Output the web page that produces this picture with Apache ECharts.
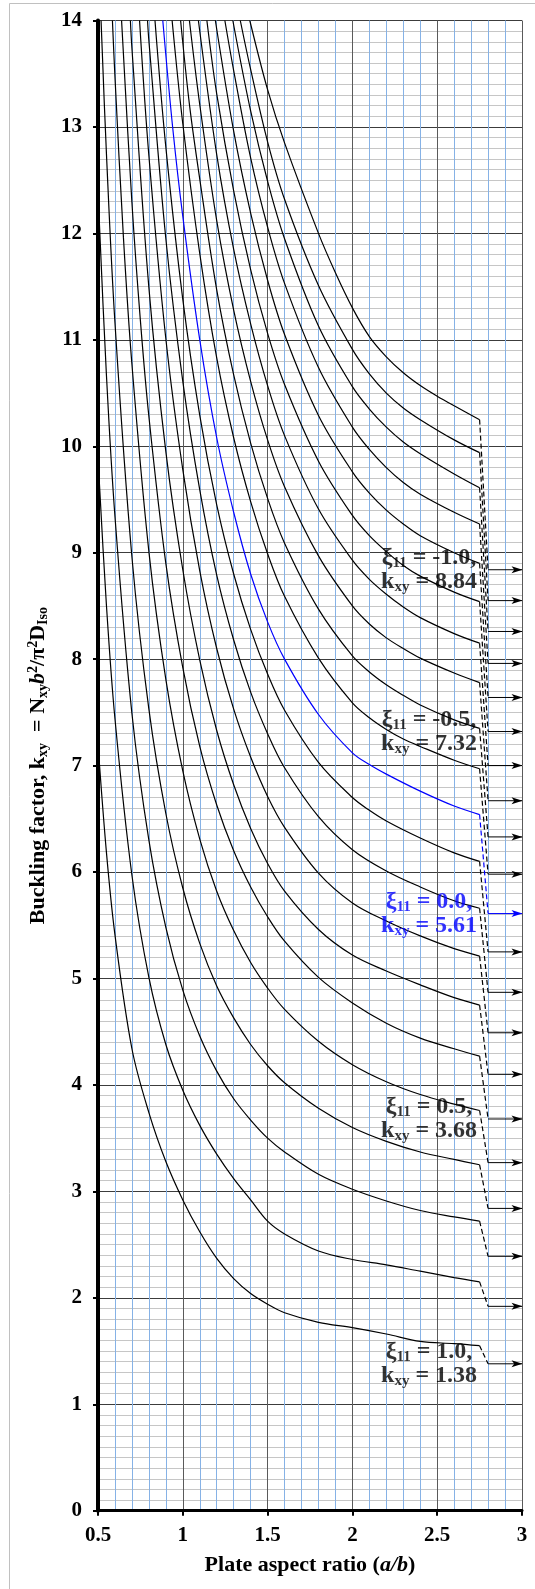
<!DOCTYPE html>
<html><head><meta charset="utf-8">
<script src="https://cdn.jsdelivr.net/npm/echarts@6/dist/echarts.min.js"></script>
<style>html,body{margin:0;padding:0;background:#fff}#c{width:535px;height:1589px}</style>
</head><body><div id="c"></div>
<script>
// ---- data ----
const xiValues = [-1.0,-0.9,-0.8,-0.7,-0.6,-0.5,-0.4,-0.3,-0.2,-0.1,0.0,0.1,0.2,0.3,0.4,0.5,0.6,0.7,0.8,0.9,1.0];
const asymptotes = [8.84,8.55,8.26,7.96,7.64,7.32,7.00,6.67,6.33,5.98,5.61,5.25,4.87,4.49,4.10,3.68,3.27,2.84,2.39,1.92,1.38];
const endX = 2.75, asymX = 2.8, arrowEndX = 3.0;
const labelledXi = [-1.0,-0.5,0.0,0.5,1.0];
const labelX = 2.452;
const xTickValues = [0.5,1,1.5,2,2.5,3];
const curves = [
 [[1.395,14],[1.5,13.35],[1.6,12.85],[1.8,12.0],[1.9,11.63],[2.0,11.30],[2.1,11.03],[2.2,10.84],[2.3,10.69],[2.4,10.57],[2.5,10.47],[2.6,10.38],[2.75,10.25]],
 [[1.339,14],[1.4,13.54],[1.5,12.86],[1.6,12.32],[1.8,11.51],[2.0,10.91],[2.1,10.68],[2.2,10.50],[2.3,10.36],[2.4,10.25],[2.6,10.06],[2.75,9.94]],
 [[1.295,14],[1.4,13.15],[1.5,12.49],[1.6,11.95],[1.8,11.13],[2.0,10.56],[2.1,10.35],[2.2,10.18],[2.3,10.04],[2.4,9.93],[2.6,9.74],[2.75,9.61]],
 [[1.248,14],[1.3,13.53],[1.4,12.71],[1.5,12.06],[1.6,11.53],[1.8,10.74],[2.0,10.18],[2.1,9.97],[2.2,9.80],[2.3,9.66],[2.4,9.55],[2.6,9.38],[2.75,9.27]],
 [[1.192,14],[1.3,12.96],[1.4,12.19],[1.5,11.56],[1.6,11.05],[1.8,10.29],[2.0,9.76],[2.1,9.56],[2.2,9.40],[2.3,9.27],[2.4,9.16],[2.6,9.00],[2.75,8.90]],
 [[1.142,14],[1.2,13.31],[1.3,12.40],[1.4,11.66],[1.5,11.06],[1.6,10.58],[1.8,9.86],[2.0,9.35],[2.1,9.16],[2.2,9.01],[2.3,8.88],[2.4,8.78],[2.6,8.63],[2.75,8.54]],
 [[1.092,14],[1.2,12.74],[1.3,11.85],[1.4,11.15],[1.5,10.57],[1.6,10.10],[1.8,9.41],[2.0,8.93],[2.1,8.75],[2.2,8.61],[2.3,8.49],[2.4,8.39],[2.6,8.24],[2.75,8.15]],
 [[1.039,14],[1.1,13.21],[1.2,12.12],[1.3,11.28],[1.4,10.61],[1.5,10.06],[1.6,9.62],[1.8,8.97],[2.0,8.50],[2.1,8.33],[2.2,8.20],[2.3,8.10],[2.4,8.01],[2.6,7.87],[2.75,7.78]],
 [[0.987,14],[1.04,13.2],[1.1,12.51],[1.2,11.47],[1.3,10.67],[1.4,10.03],[1.5,9.51],[1.6,9.09],[1.8,8.47],[2.0,8.03],[2.1,7.88],[2.2,7.76],[2.3,7.66],[2.4,7.57],[2.6,7.43],[2.75,7.35]],
 [[0.937,14],[1.0,13.03],[1.1,11.81],[1.2,10.83],[1.3,10.08],[1.4,9.48],[1.5,8.99],[1.6,8.59],[1.8,8.01],[2.0,7.59],[2.1,7.45],[2.2,7.34],[2.3,7.25],[2.4,7.18],[2.6,7.05],[2.75,6.97]],
 [[0.882,14],[0.94,13],[1.0,12.16],[1.1,11.0],[1.2,10.08],[1.3,9.38],[1.4,8.8],[1.5,8.35],[1.6,8.0],[1.8,7.48],[2.0,7.12],[2.1,7.01],[2.2,6.92],[2.4,6.76],[2.6,6.62],[2.75,6.54]],
 [[0.836,14],[0.9,12.81],[1.0,11.38],[1.1,10.29],[1.2,9.45],[1.3,8.80],[1.4,8.28],[1.5,7.86],[1.6,7.52],[1.8,7.03],[2.0,6.70],[2.1,6.58],[2.2,6.48],[2.4,6.32],[2.6,6.18],[2.75,6.10]],
 [[0.792,14],[0.8,13.81],[0.9,11.95],[1.0,10.61],[1.1,9.59],[1.2,8.79],[1.3,8.18],[1.4,7.69],[1.5,7.30],[1.6,6.98],[1.8,6.52],[2.0,6.21],[2.2,6.01],[2.4,5.86],[2.6,5.73],[2.75,5.66]],
 [[0.745,14],[0.8,12.73],[0.9,11.01],[1.0,9.78],[1.1,8.83],[1.2,8.10],[1.3,7.53],[1.4,7.08],[1.5,6.71],[1.6,6.42],[1.8,5.99],[2.0,5.71],[2.2,5.54],[2.4,5.40],[2.6,5.28],[2.75,5.21]],
 [[0.691,14],[0.7,13.74],[0.8,11.49],[0.9,9.95],[1.0,8.84],[1.1,7.99],[1.2,7.33],[1.3,6.82],[1.4,6.41],[1.5,6.08],[1.6,5.82],[1.8,5.46],[2.0,5.22],[2.2,5.07],[2.4,4.94],[2.6,4.82],[2.75,4.75]],
 [[0.639,14],[0.7,12.29],[0.75,11.18],[0.8,10.28],[0.9,8.90],[1.0,7.92],[1.1,7.18],[1.2,6.63],[1.3,6.20],[1.4,5.86],[1.5,5.58],[1.6,5.35],[1.8,5.01],[2.0,4.77],[2.2,4.58],[2.4,4.44],[2.6,4.34],[2.75,4.27]],
 [[0.585,14],[0.6,13.47],[0.65,11.96],[0.7,10.77],[0.8,9.01],[0.9,7.81],[1.0,6.95],[1.1,6.31],[1.2,5.82],[1.3,5.45],[1.4,5.15],[1.5,4.91],[1.6,4.71],[1.8,4.41],[2.0,4.19],[2.2,4.03],[2.4,3.91],[2.6,3.82],[2.75,3.76]],
 [[0.518,14],[0.55,12.74],[0.6,11.16],[0.7,8.96],[0.8,7.53],[0.9,6.55],[1.0,5.85],[1.1,5.33],[1.2,4.93],[1.3,4.63],[1.4,4.38],[1.5,4.18],[1.6,4.02],[1.8,3.78],[2.0,3.60],[2.2,3.47],[2.4,3.37],[2.6,3.30],[2.75,3.25]],
 [[0.5,12.39],[0.55,10.66],[0.6,9.34],[0.7,7.49],[0.8,6.30],[0.9,5.48],[1.0,4.89],[1.1,4.46],[1.2,4.13],[1.3,3.87],[1.4,3.67],[1.5,3.50],[1.6,3.37],[1.8,3.16],[2.0,3.02],[2.2,2.91],[2.4,2.82],[2.6,2.76],[2.75,2.72]],
 [[0.5,9.89],[0.55,8.50],[0.6,7.44],[0.7,5.97],[0.8,5.01],[0.9,4.38],[1.0,3.95],[1.1,3.62],[1.2,3.35],[1.3,3.12],[1.4,2.92],[1.5,2.72],[1.6,2.60],[1.8,2.44],[2.0,2.36],[2.2,2.31],[2.4,2.25],[2.6,2.19],[2.75,2.15]],
 [[0.5,7.20],[0.55,6.18],[0.6,5.41],[0.7,4.34],[0.8,3.74],[0.9,3.28],[1.0,2.92],[1.1,2.62],[1.2,2.37],[1.3,2.18],[1.4,2.04],[1.5,1.94],[1.6,1.86],[1.8,1.77],[2.0,1.72],[2.2,1.66],[2.4,1.59],[2.6,1.57],[2.75,1.55]]
];

// ---- chart ----
const FONT = '"Liberation Serif","Times New Roman",serif';
const BLUE = '#0000ff';
const arrowPath = 'path://M0,0L12,4L0,8L3,4Z';
const chart = echarts.init(document.getElementById('c'), null, {renderer:'canvas'});
const series = [];
curves.forEach((pts, i) => {
  const col = xiValues[i] === 0 ? BLUE : '#000';
  const last = pts[pts.length - 1];
  series.push({type:'line', data:pts, showSymbol:false, smooth:0.35,
    lineStyle:{color:col, width:1.2}, clip:true, z:3, silent:true});
  series.push({type:'line', data:[[endX, last[1]], [asymX, asymptotes[i]]], showSymbol:false,
    lineStyle:{color:col, width:1.2, type:[5,3]}, z:3, silent:true});
  series.push({type:'line', symbol:'none', showSymbol:true, clip:false, z:3, silent:true,
    data:[[asymX, asymptotes[i]], {value:[arrowEndX, asymptotes[i]], symbol:arrowPath, symbolSize:[11,7], symbolOffset:[-5,0]}],
    lineStyle:{color:col, width:1}, itemStyle:{color:col}});
});
function richFor(col){
  return {
    t:{fontFamily:FONT, fontWeight:'bold', fontSize:24, color:col, lineHeight:24},
    s:{fontFamily:FONT, fontWeight:'bold', fontSize:15, color:col, lineHeight:14, padding:[11,0,0,0]}
  };
}
series.push({type:'scatter', symbolSize:1, itemStyle:{color:'rgba(0,0,0,0)'}, z:5, silent:true,
  data: labelledXi.map(xi => {
    const i = xiValues.indexOf(xi);
    const col = xi === 0 ? BLUE : '#000';
    return {value:[labelX, asymptotes[i]], label:{show:true, position:'inside', align:'center', verticalAlign:'middle',
      formatter:'{t|ξ}{s|11}{t| = ' + xi.toFixed(1) + ',}\n{t|k}{s|xy}{t| = ' + asymptotes[i].toFixed(2) + '}',
      rich:richFor(col)}};
  })
});

const nameRich = {
  n:{fontFamily:FONT, fontWeight:'bold', fontSize:22, color:'#000', lineHeight:26},
  i:{fontFamily:FONT, fontWeight:'bold', fontStyle:'italic', fontSize:22, color:'#000', lineHeight:26},
  s:{fontFamily:FONT, fontWeight:'bold', fontSize:14, color:'#000', lineHeight:16, padding:[10,0,0,0]},
  p:{fontFamily:FONT, fontWeight:'bold', fontSize:14, color:'#000', lineHeight:16, padding:[0,0,10,0]}
};

chart.setOption({
  animation:false,
  backgroundColor:'#fff',
  grid:{left:98, right:13, top:20.5, bottom:78.3, containLabel:false},
  xAxis:{type:'value', min:0.5, max:3, interval:0.5,
    name:'{n|Plate aspect ratio (}{i|a/b}{n|)}', nameLocation:'middle', nameGap:42,
    nameTextStyle:{rich:nameRich},
    axisLine:{show:true, onZero:false, lineStyle:{color:'#000', width:3}},
    axisTick:{show:true, length:5, lineStyle:{color:'#000', width:2}},
    axisLabel:{fontFamily:FONT, fontWeight:'bold', fontSize:21, color:'#000', margin:14,
      formatter:v => xTickValues.indexOf(v) >= 0 ? String(v) : ''},
    splitLine:{show:true, lineStyle:{color:'#5a5a5a', width:1}},
    minorTick:{show:false, splitNumber:5},
    minorSplitLine:{show:true, lineStyle:{color:'#86b2e6', width:1}}
  },
  yAxis:{type:'value', min:0, max:14, interval:1,
    name:'{n|Buckling factor, k}{s|xy}{n|  = N}{s|xy}{i|b}{p|2}{n|/π}{p|2}{n|D}{s|Iso}',
    nameLocation:'middle', nameGap:40, nameRotate:90,
    nameTextStyle:{rich:nameRich},
    axisLine:{show:true, onZero:false, lineStyle:{color:'#000', width:4}},
    axisTick:{show:true, length:5, lineStyle:{color:'#000', width:2}},
    axisLabel:{fontFamily:FONT, fontWeight:'bold', fontSize:21, color:'#000', margin:16},
    splitLine:{show:true, lineStyle:{color:'#3c3c3c', width:1}},
    minorTick:{show:false, splitNumber:10},
    minorSplitLine:{show:true, lineStyle:{color:'#c6c6c6', width:1}}
  },
  graphic:[{type:'rect', silent:true, z:-1, shape:{x:9.5, y:3.5, width:700, height:1700},
    style:{fill:'none', stroke:'#c0c0c0', lineWidth:1}}],
  series:series
});
</script>
</body></html>
